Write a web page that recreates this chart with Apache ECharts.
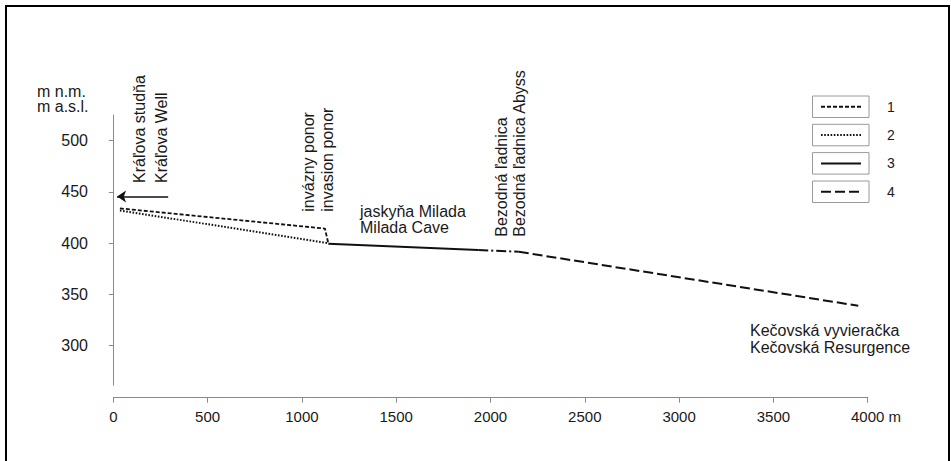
<!DOCTYPE html>
<html>
<head>
<meta charset="utf-8">
<script src="https://cdn.jsdelivr.net/npm/echarts@6/dist/echarts.min.js"></script>
<style>
html,body{margin:0;padding:0;background:#fff}
#c{width:951px;height:461px}
</style>
</head>
<body>
<div id="c"></div>
<script>
// ---- data (distance in m, elevation in m a.s.l.) ----
const legendNames = ['1', '2', '3', '4'];
const dist1 = [35, 1122, 1140];
const elev1 = [434, 414.3, 400];
const dist2 = [35, 1140];
const elev2 = [432, 400];
const dist3 = [1140, 1935];
const elev3 = [399.5, 393.4];
const distLink = [1935, 2150];
const elevLink = [393.4, 391.7];
const dist4 = [2150, 3950];
const elev4 = [391.7, 339];
const xTicks = [0, 500, 1000, 1500, 2000, 2500, 3000, 3500, 4000];
const yTicks = [300, 350, 400, 450, 500];
const arrowFrom = [291, 445.5];
const arrowTo = [20, 445.5];
const yAxisTitle = 'm n.m.\nm a.s.l.';
const xUnit = ' m';
const labelWell = 'Kráľova studňa\nKráľova Well';
const labelPonor = 'invázny ponor\ninvasion ponor';
const labelCave = 'jaskyňa Milada\nMilada Cave';
const labelAbyss = 'Bezodná ľadnica\nBezodná ľadnica Abyss';
const labelSpring = 'Kečovská vyvieračka\nKečovská Resurgence';

const pairs = (xs, ys) => xs.map((x, i) => [x, ys[i]]);
const FONT = '"Liberation Sans", Arial, Helvetica, sans-serif';
const INK = '#1a1a1a';
const AXIS = '#8a8a8a';
const LINE = '#111';

function txt(x, y, text, lh, rot) {
  const el = {
    type: 'text', x: x, y: y, silent: true,
    style: {
      text: text, fontSize: 16, fontFamily: FONT, lineHeight: lh, fill: INK,
      align: 'left', verticalAlign: 'top', textAlign: 'left', textVerticalAlign: 'top'
    }
  };
  if (rot) el.rotation = Math.PI / 2;
  return el;
}
function box(y) {
  return { type: 'rect', shape: { x: 812.5, y: y, width: 56.5, height: 21.5 }, silent: true,
    style: { fill: 'none', stroke: '#9a9a9a', lineWidth: 1 } };
}

const chart = echarts.init(document.getElementById('c'), null, { renderer: 'svg' });
chart.setOption({
  animation: false,
  backgroundColor: '#fff',
  color: [LINE, LINE, LINE, LINE, LINE],
  textStyle: { fontFamily: FONT },
  grid: { left: 113.3, right: 83.3, top: 115, bottom: 75.7, containLabel: false, outerBoundsMode: 'none' },
  xAxis: {
    type: 'value', min: 0, max: 4000, interval: 500, offset: 12.4,
    axisLine: { show: true, lineStyle: { color: AXIS, width: 1 } },
    axisTick: { show: true, length: 5, lineStyle: { color: AXIS } },
    splitLine: { show: false },
    axisLabel: {
      margin: 11, fontSize: 15, color: INK, fontFamily: FONT,
      customValues: xTicks,
      formatter: v => v === 4000 ? '{p|}' + v + xUnit : String(v),
      rich: { p: { width: 16.7, fontSize: 15 } }
    }
  },
  yAxis: {
    type: 'value', min: 261.4, max: 525.1, offset: 13.3,
    axisLine: { show: true, lineStyle: { color: AXIS, width: 1 } },
    axisTick: { show: true, length: 4.5, lineStyle: { color: AXIS }, customValues: yTicks },
    splitLine: { show: false },
    axisLabel: { margin: 12, fontSize: 16, color: INK, fontFamily: FONT, customValues: yTicks }
  },
  legend: {
    data: legendNames, orient: 'vertical', left: 820, top: 99.8, padding: 0,
    itemWidth: 40, itemHeight: 14, itemGap: 14.3, selectedMode: false,
    itemStyle: { opacity: 0, borderWidth: 0 },
    textStyle: { fontSize: 14, color: INK, lineHeight: 14, padding: [0, 0, 0, 21], fontFamily: FONT }
  },
  series: [
    { name: '1', type: 'line', data: pairs(dist1, elev1), symbol: 'none', silent: true,
      lineStyle: { color: LINE, width: 1.8, type: [4, 2] } },
    { name: '2', type: 'line', data: pairs(dist2, elev2), symbol: 'none', silent: true,
      lineStyle: { color: LINE, width: 2, type: [1.6, 1.6] } },
    { name: '3', type: 'line', data: pairs(dist3, elev3), symbol: 'none', silent: true,
      lineStyle: { color: LINE, width: 2, type: 'solid' } },
    { name: '4', type: 'line', data: pairs(dist4, elev4), symbol: 'none', silent: true,
      lineStyle: { color: LINE, width: 2, type: [10, 4] } },
    { name: 'link', type: 'line', data: pairs(distLink, elevLink), symbol: 'none', silent: true,
      lineStyle: { color: LINE, width: 2, type: [10, 3, 2, 3] },
      markLine: {
        silent: true, symbol: ['none', 'arrow'], symbolSize: 9,
        label: { show: false },
        lineStyle: { color: LINE, width: 1.6, type: 'solid' },
        data: [[{ coord: arrowFrom }, { coord: arrowTo }]]
      } }
  ],
  graphic: [
    { type: 'rect', shape: { x: 6, y: 6, width: 943, height: 480 }, silent: true,
      style: { fill: 'none', stroke: '#000', lineWidth: 2 } },
    box(96), box(124.3), box(152.6), box(181),
    txt(37, 83.4, yAxisTitle, 15.6, false),
    txt(128.5, 183, labelWell, 22, true),
    txt(299, 211.7, labelPonor, 19, true),
    txt(360, 202.7, labelCave, 16.8, false),
    txt(492.2, 236.7, labelAbyss, 18.5, true),
    txt(750, 321.8, labelSpring, 17.3, false)
  ]
});
</script>
</body>
</html>
